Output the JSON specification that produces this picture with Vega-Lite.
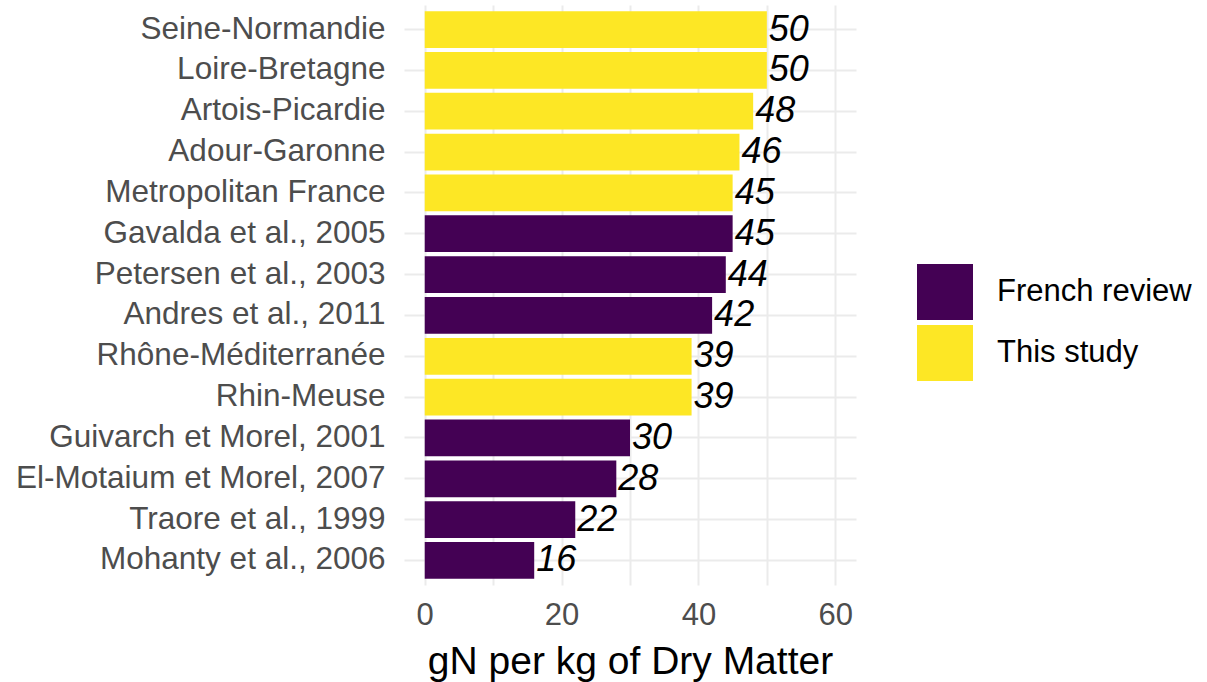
{
  "$schema": "https://vega.github.io/schema/vega-lite/v6.json",
  "autosize": {"type": "none"},
  "width": 452,
  "height": 580,
  "padding": {"left": 404, "top": 5, "right": 351, "bottom": 97},
  "background": "white",
  "config": {
    "view": {"stroke": null},
    "font": "Liberation Sans"
  },
  "data": {
    "values": [
      {"source": "Seine-Normandie", "value": 50, "group": "This study"},
      {"source": "Loire-Bretagne", "value": 50, "group": "This study"},
      {"source": "Artois-Picardie", "value": 48, "group": "This study"},
      {"source": "Adour-Garonne", "value": 46, "group": "This study"},
      {"source": "Metropolitan France", "value": 45, "group": "This study"},
      {"source": "Gavalda et al., 2005", "value": 45, "group": "French review"},
      {"source": "Petersen et al., 2003", "value": 44, "group": "French review"},
      {"source": "Andres et al., 2011", "value": 42, "group": "French review"},
      {"source": "Rhône-Méditerranée", "value": 39, "group": "This study"},
      {"source": "Rhin-Meuse", "value": 39, "group": "This study"},
      {"source": "Guivarch et Morel, 2001", "value": 30, "group": "French review"},
      {"source": "El-Motaium et Morel, 2007", "value": 28, "group": "French review"},
      {"source": "Traore et al., 1999", "value": 22, "group": "French review"},
      {"source": "Mohanty et al., 2006", "value": 16, "group": "French review"}
    ]
  },
  "encoding": {
    "y": {
      "field": "source",
      "type": "nominal",
      "sort": null,
      "scale": {"paddingInner": 0.1, "paddingOuter": 0.15},
      "axis": {
        "title": null,
        "ticks": false,
        "domain": false,
        "grid": true,
        "bandPosition": 0.5,
        "gridColor": "#EBEBEB",
        "gridWidth": 2,
        "labelColor": "#4D4D4D",
        "labelFontSize": 31.5,
        "labelPadding": 19,
        "labelLimit": 500
      }
    },
    "x": {
      "field": "value",
      "type": "quantitative",
      "scale": {"domain": [-3.03, 63.03], "nice": false, "zero": false},
      "axis": {
        "title": "gN per kg of Dry Matter",
        "titleFontSize": 39,
        "titleFontWeight": "normal",
        "titleColor": "black",
        "titlePadding": 12,
        "values": [0, 10, 20, 30, 40, 50, 60],
        "labelExpr": "datum.value % 20 == 0 ? datum.label : ''",
        "ticks": false,
        "domain": false,
        "grid": true,
        "gridColor": "#EBEBEB",
        "gridWidth": 2,
        "labelColor": "#4D4D4D",
        "labelFontSize": 31,
        "labelPadding": 15
      }
    }
  },
  "layer": [
    {
      "mark": {"type": "bar"},
      "encoding": {
        "x2": {"datum": 0},
        "color": {
          "field": "group",
          "type": "nominal",
          "scale": {"domain": ["French review", "This study"], "range": ["#440154", "#FDE725"]},
          "legend": {
            "title": null,
            "orient": "none",
            "legendX": 513,
            "legendY": 259,
            "padding": 0,
            "symbolType": "square",
            "symbolSize": 3136,
            "symbolStrokeWidth": 0,
            "symbolOpacity": 1,
            "labelFontSize": 31,
            "labelColor": "black",
            "labelOffset": 24,
            "rowPadding": 5,
            "labelLimit": 400
          }
        }
      }
    },
    {
      "mark": {"type": "text", "align": "left", "baseline": "middle", "dx": 2, "fontSize": 36, "fontStyle": "italic", "color": "black"},
      "encoding": {
        "text": {"field": "value", "type": "quantitative", "format": "d"}
      }
    }
  ]
}
